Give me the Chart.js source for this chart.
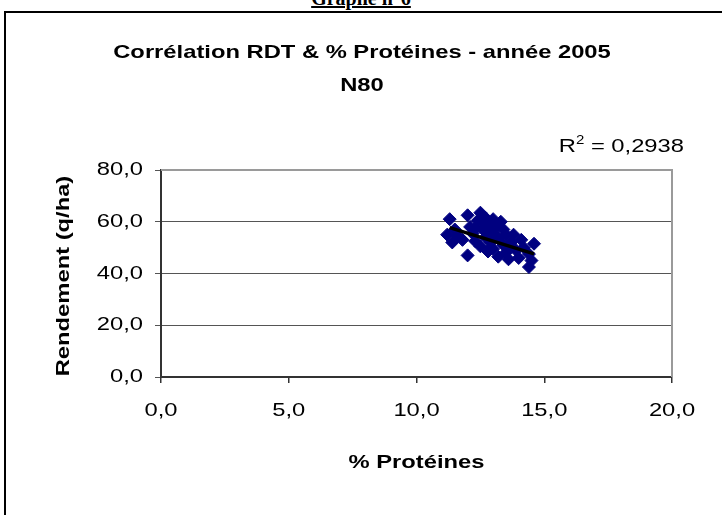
<!DOCTYPE html>
<html>
<head>
<meta charset="utf-8">
<script src="https://cdn.jsdelivr.net/npm/chart.js@4.4.0/dist/chart.umd.min.js"></script>
<style>
  body { margin: 0; background: #fff; }
  #wrap { position: relative; width: 722px; height: 515px; overflow: hidden; }
  #frame { position: absolute; left: 4px; top: 11px; width: 740px; height: 540px;
           border-left: 2px solid #000; border-top: 2px solid #000; }
  #graphe { position: absolute; left: 0; width: 722px; top: -13px; text-align: center;
            font: bold 20px "Liberation Serif", "Times New Roman", serif; }
  #graphe span { text-decoration: underline; }
  canvas { position: absolute; left: 0; top: 0; }
</style>
</head>
<body>
<div id="wrap">
  <div id="frame"></div>
  <div id="graphe"><span>Graphe n°6</span></div>
  <canvas id="scatter" width="722" height="515"></canvas>
</div>
<script>
const proteines = [11.3, 11.2, 11.4, 11.5, 11.6, 11.8, 12.0, 12.0, 12.1, 12.2,
    12.3, 12.4, 12.5, 12.5, 12.6, 12.7, 12.7, 12.8, 12.9, 12.9,
    13.0, 13.0, 13.1, 13.2, 13.2, 13.3, 13.4, 13.5, 13.5, 13.6,
    13.7, 13.8, 13.9, 14.0, 14.1, 14.2, 14.4, 14.4, 14.6, 14.5,
    12.6, 12.8, 13.0, 13.1, 12.3, 13.4, 12.9, 13.6]
const rendement = [61.0, 55.0, 52.0, 57.0, 54.5, 53.0, 62.5, 47.0, 58.0, 55.5,
    52.5, 60.5, 63.5, 50.5, 57.0, 61.5, 54.0, 48.5, 59.0, 52.0,
    56.0, 49.5, 58.0, 46.5, 53.5, 60.0, 51.0, 55.0, 48.0, 45.5,
    52.0, 55.0, 49.0, 46.0, 53.0, 50.0, 47.5, 42.5, 51.5, 45.0,
    59.5, 56.5, 61.0, 54.5, 57.5, 57.0, 50.0, 50.5]
const trendX = [11.3, 14.6]
const trendY = [57.7, 47.6]
const xTicks = ['0,0', '5,0', '10,0', '15,0', '20,0']
const yTicks = ['0,0', '20,0', '40,0', '60,0', '80,0']
const title = ['Corrélation RDT & % Protéines - année 2005', 'N80']
const r2Label = '0,2938'

const FONT = '"Liberation Sans", Arial, sans-serif'
const SX = 1.25 // the original text is drawn a bit wider than normal

const canvas = document.getElementById('scatter')
const ctx2d = canvas.getContext('2d')
// stretch every text horizontally around its anchor
ctx2d.fillText = function (text, x, y) {
    this.save()
    this.translate(x, y)
    this.scale(SX, 1)
    CanvasRenderingContext2D.prototype.fillText.call(this, text, 0, 0)
    this.restore()
}

const textPlugin = {
    id: 'texts',
    afterDraw(chart) {
        const ctx = chart.ctx
        const area = chart.chartArea
        ctx.save()
        // frame of the plot (top and right sides)
        ctx.strokeStyle = '#9a9a9a'
        ctx.lineWidth = 2
        ctx.beginPath()
        ctx.moveTo(area.left, area.top)
        ctx.lineTo(area.right, area.top)
        ctx.lineTo(area.right, area.bottom)
        ctx.stroke()

        ctx.fillStyle = '#000'
        ctx.textAlign = 'center'
        ctx.textBaseline = 'middle'
        ctx.font = 'bold 19px ' + FONT
        ctx.fillText(title[0], 362, 53)
        ctx.fillText(title[1], 362, 86)

        ctx.fillText('% Protéines', (area.left + area.right) / 2, 463)

        ctx.save()
        ctx.translate(64, 276)
        ctx.rotate(-Math.PI / 2)
        ctx.fillText('Rendement (q/ha)', 0, 0)
        ctx.restore()

        // R² label, right edge at x = 684
        ctx.textAlign = 'left'
        ctx.font = '19px ' + FONT
        const rest = ' = ' + r2Label
        const wR = ctx.measureText('R').width * SX
        const wRest = ctx.measureText(rest).width * SX
        ctx.font = '12px ' + FONT
        const w2 = ctx.measureText('2').width * SX
        const x0 = 684 - wRest - w2 - wR
        ctx.font = '19px ' + FONT
        ctx.fillText('R', x0, 147)
        ctx.fillText(rest, x0 + wR + w2, 147)
        ctx.font = '12px ' + FONT
        ctx.fillText('2', x0 + wR, 141)
        ctx.restore()
    }
}

new Chart(canvas, {
    type: 'scatter',
    data: {
        datasets: [{
            label: 'N80',
            data: proteines.map((p, i) => ({ x: p, y: rendement[i] })),
            pointStyle: 'rectRot',
            radius: 6.5,
            backgroundColor: '#000080',
            borderColor: '#000080',
            borderWidth: 1,
            order: 2
        }, {
            label: 'Tendance',
            data: trendX.map((p, i) => ({ x: p, y: trendY[i] })),
            showLine: true,
            borderColor: '#000',
            borderWidth: 3.5,
            pointRadius: 0,
            order: 1
        }]
    },
    plugins: [textPlugin],
    options: {
        responsive: false,
        animation: false,
        layout: { padding: { top: 170, right: 50, left: 0, bottom: 0 } },
        plugins: {
            legend: { display: false },
            tooltip: { enabled: false }
        },
        scales: {
            x: {
                min: 0,
                max: 20,
                ticks: {
                    stepSize: 5,
                    padding: 16,
                    color: '#000',
                    font: { family: FONT, size: 19 },
                    callback: (v) => xTicks[v / 5]
                },
                grid: { drawOnChartArea: false, tickLength: 6, color: '#333', lineWidth: 1.5 },
                border: { color: '#333', width: 2 },
                afterFit: (s) => { s.height = 138 }
            },
            y: {
                min: 0,
                max: 80,
                ticks: {
                    stepSize: 20,
                    padding: 12,
                    color: '#000',
                    font: { family: FONT, size: 19 },
                    callback: (v) => yTicks[v / 20]
                },
                grid: { tickLength: 6, color: '#555', lineWidth: 1 },
                border: { color: '#333', width: 2 },
                afterFit: (s) => { s.width = 161 }
            }
        }
    }
})
</script>
</body>
</html>
